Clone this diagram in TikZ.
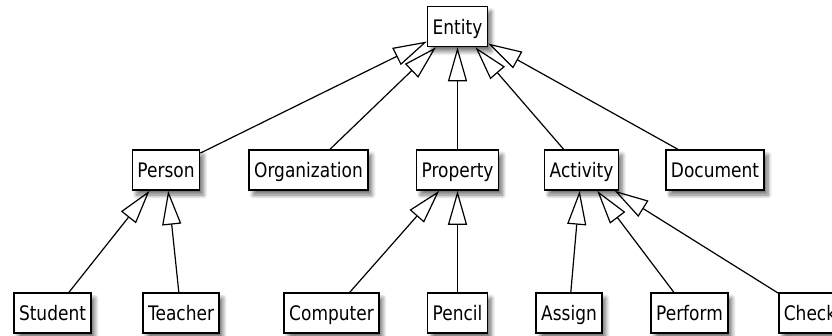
\documentclass[tikz,border=0pt]{standalone}
\usepackage{fontspec}
\setmainfont{DejaVu Sans}[FakeStretch=0.85]
\usetikzlibrary{arrows.meta,shadows.blur}

\begin{document}
\begin{tikzpicture}[x=1pt, y=-1pt, font=\fontsize{20}{23}\selectfont,
    class/.style={draw, line width=1.5pt, fill=white, minimum height=40pt, inner xsep=5pt,
        text height=19pt, text depth=4pt,
        blur shadow={shadow xshift=4pt, shadow yshift=-5pt, shadow blur radius=4pt, shadow blur steps=8, shadow opacity=55}},
    isa/.style={draw, line width=1.2pt, -{Triangle[open, length=34pt, width=19pt, line width=1.2pt]}}]
    \useasboundingbox (0,0) rectangle (832,335);
    \clip (0,0) rectangle (832,335);
    % Root node
    \node[class] (entity) at (457.5,26.5) {Entity};
    % First level
    \node[class] (person) at (166,170) {Person};
    \node[class] (organization) at (308.5,170) {Organization};
    \node[class] (property) at (457.5,170) {Property};
    \node[class] (activity) at (581.5,170) {Activity};
    \node[class] (document) at (715,170) {Document};
    % Second level
    \node[class] (student) at (52.5,313) {Student};
    \node[class] (teacher) at (181,313) {Teacher};
    \node[class] (computer) at (331.5,313) {Computer};
    \node[class] (pencil) at (457.5,313) {Pencil};
    \node[class] (assign) at (569,313) {Assign};
    \node[class] (perform) at (689.5,313) {Perform};
    \node[class] (check) at (810,313) {Check};
    % Generalisations
    \draw[isa] (person) -- (entity);
    \draw[isa] (organization) -- (entity);
    \draw[isa] (property) -- (entity);
    \draw[isa] (activity) -- (entity);
    \draw[isa] (document) -- (entity);
    \draw[isa] (student) -- (person);
    \draw[isa] (teacher) -- (person);
    \draw[isa] (computer) -- (property);
    \draw[isa] (pencil) -- (property);
    \draw[isa] (assign) -- (activity);
    \draw[isa] (perform) -- (activity);
    \draw[isa] (check) -- (activity);
\end{tikzpicture}
\end{document}
